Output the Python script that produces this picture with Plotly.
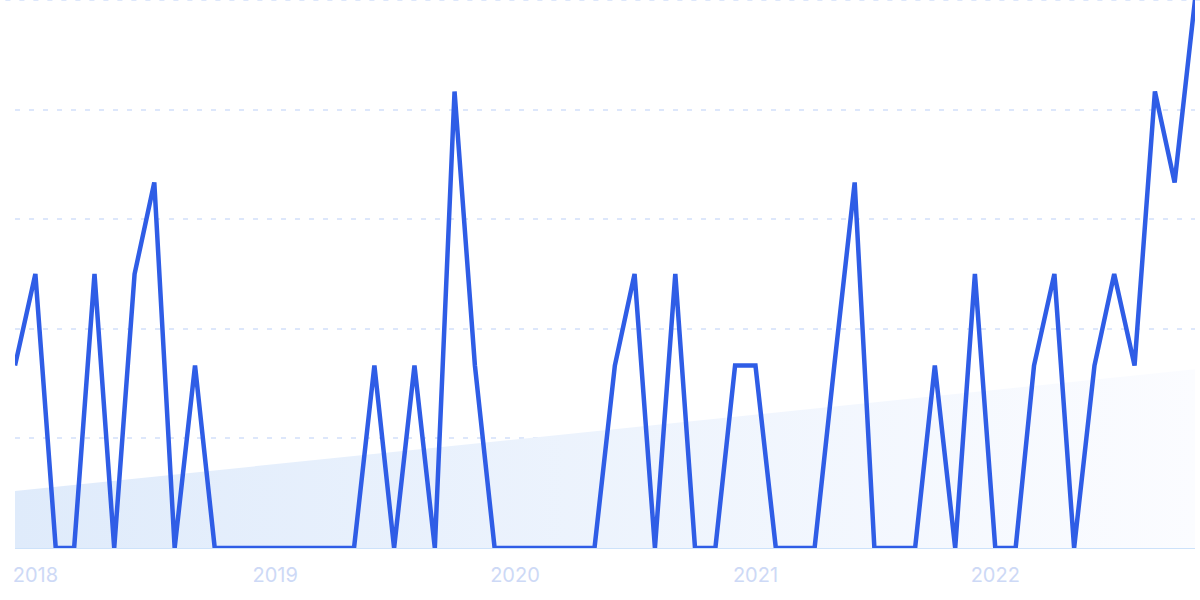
import plotly.graph_objects as go
import pandas as pd

# Monthly values, Dec 2017 .. Nov 2022
months = pd.date_range("2017-12-01", "2022-11-01", freq="MS")
values = [
    33.3, 50, 0, 0, 50, 0, 50, 66.7, 0, 33.3,          # Dec17 - Sep18
    0, 0, 0, 0, 0, 0, 0, 0, 33.3, 0,                   # Oct18 - Jul19
    33.3, 0, 83.3, 33.3, 0, 0, 0, 0, 0, 0,             # Aug19 - May20
    33.3, 50, 0, 50, 0, 0, 33.3, 33.3, 0, 0,           # Jun20 - Mar21
    0, 33.3, 66.7, 0, 0, 0, 33.3, 0, 50, 0,            # Apr21 - Jan22
    0, 33.3, 50, 0, 33.3, 50, 33.3, 83.3, 66.7, 100,   # Feb22 - Nov22
]

# Trend band (start and end values)
trend_x = [months[0], months[-1]]
trend_y = [10.4, 32.6]

tick_years = ["2018", "2019", "2020", "2021", "2022"]
tick_vals = [f"{y}-01-01" for y in tick_years]
y_max = 100

fig = go.Figure()

fig.add_trace(go.Scatter(
    x=trend_x, y=trend_y, mode="lines", fill="tozeroy",
    line=dict(width=0, color="rgba(0,0,0,0)"),
    fillgradient=dict(type="horizontal",
                      colorscale=[[0, "#dfebfb"], [1, "#fbfcff"]]),
    hoverinfo="skip", showlegend=False,
))

fig.add_trace(go.Scatter(
    x=list(months), y=values, mode="lines",
    line=dict(color="#2f5de6", width=4.5, shape="linear"),
    showlegend=False,
))

fig.update_layout(
    width=1200, height=600,
    margin=dict(l=15, r=5, t=0, b=52),
    paper_bgcolor="white", plot_bgcolor="white",
    font=dict(family="Inter, Roboto, sans-serif"),
    xaxis=dict(
        range=[months[0], months[-1]],
        tickvals=tick_vals, ticktext=tick_years,
        showgrid=False, zeroline=False, showline=False,
        ticks="", tickfont=dict(size=20, color="#cdd9f6"),
        ticklabelstandoff=13,
    ),
    yaxis=dict(
        range=[0, y_max], tickvals=[0, 20, 40, 60, 80, 100],
        showticklabels=False, ticks="",
        showgrid=True, gridcolor="#dde7fb", gridwidth=1.5,
        griddash="5px,9px",
        zeroline=True, zerolinecolor="#cde2fa", zerolinewidth=1.5,
        showline=False,
    ),
)

# top gridline (at the upper edge of the plot area)
fig.add_shape(type="line", xref="x domain", yref="y", x0=-0.02, x1=1.01,
              y0=y_max, y1=y_max, layer="below",
              line=dict(color="#dde7fb", width=2, dash="5px,9px"))

fig.write_html(
    "out.html",
    config={"displayModeBar": False},
    post_script="document.body.style.margin='0';document.body.style.overflow='hidden';",
)
